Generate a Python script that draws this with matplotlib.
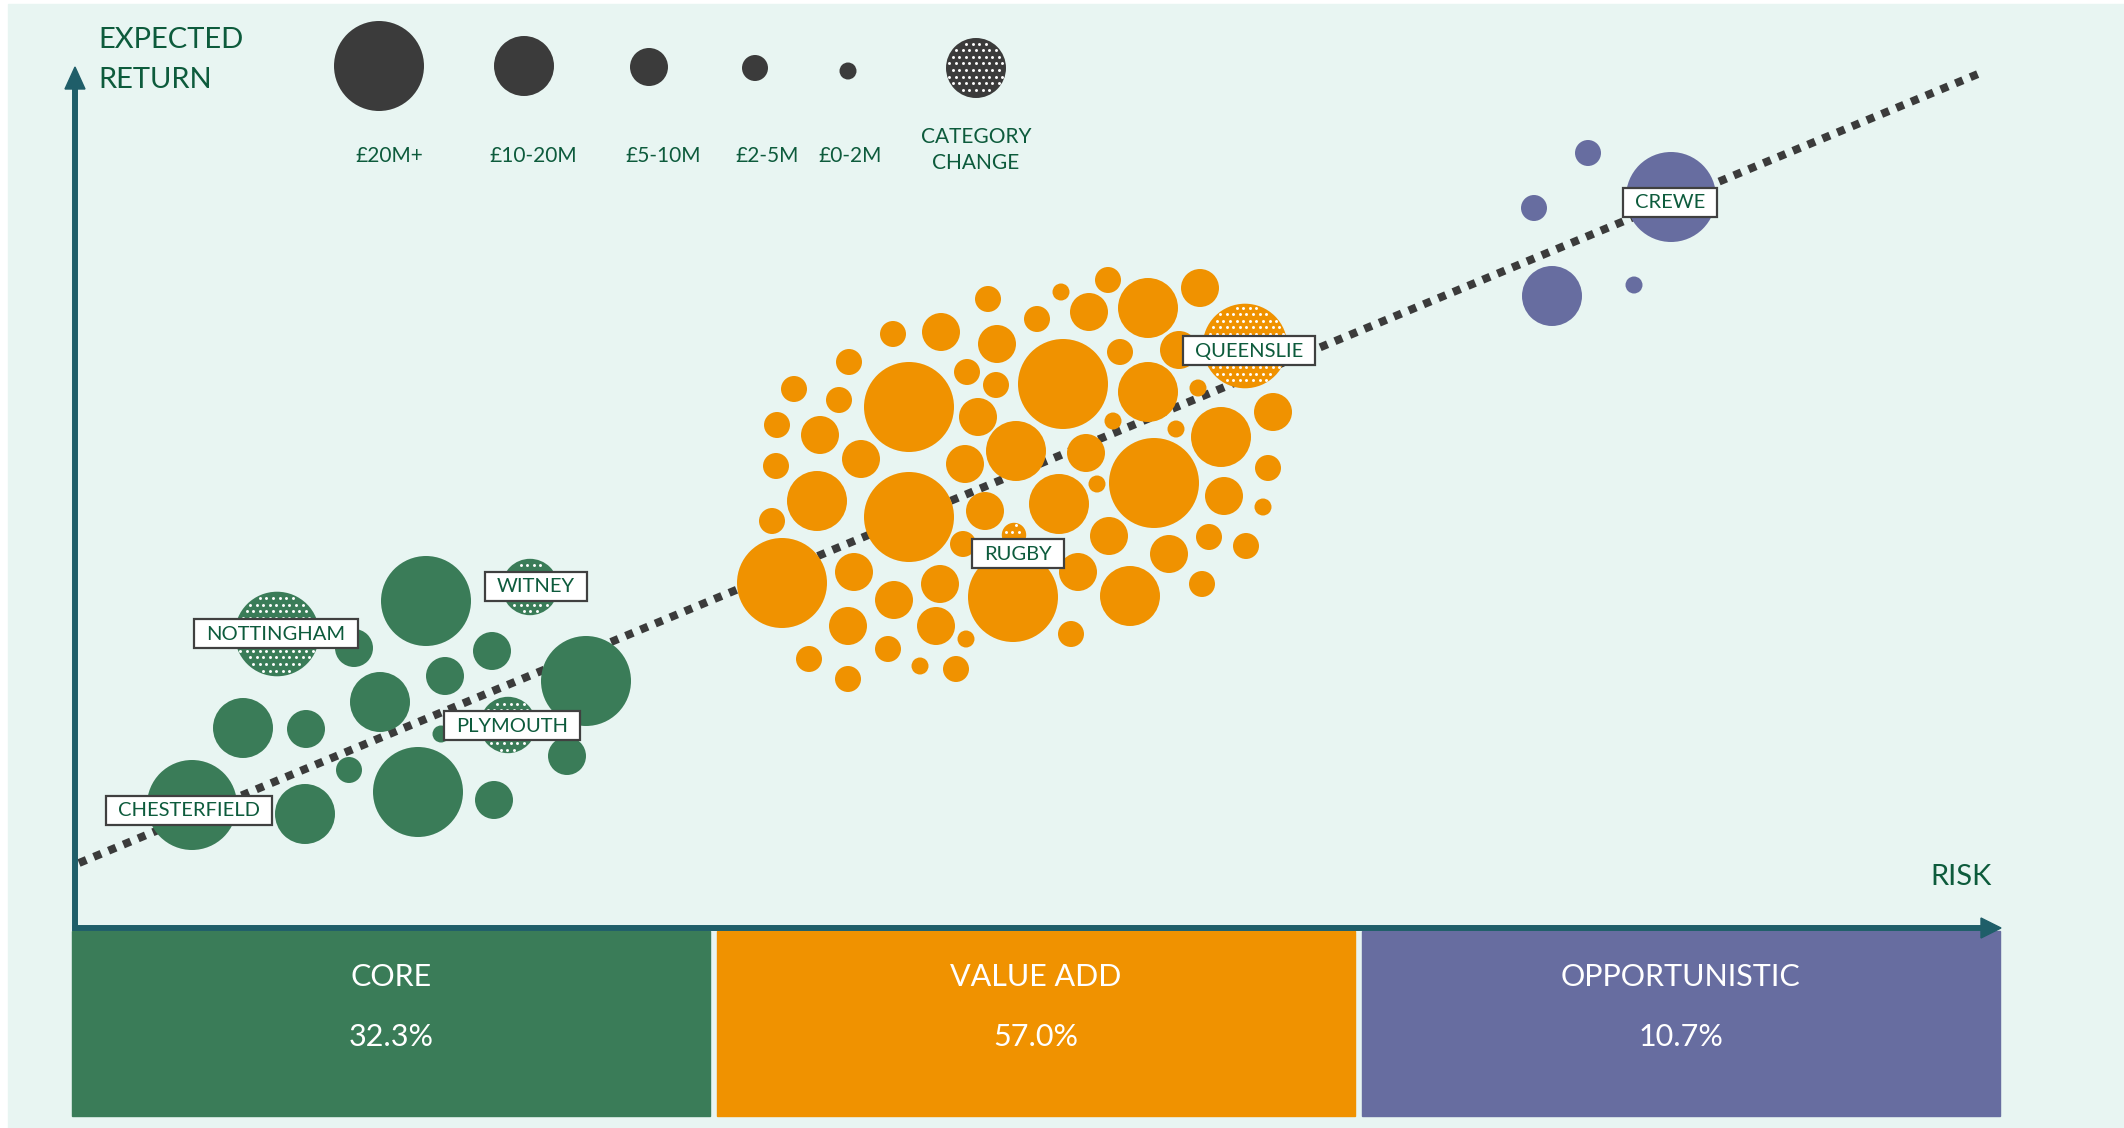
import numpy as np
import matplotlib
matplotlib.use('Agg')
from matplotlib import pyplot as plt
from matplotlib.patches import Circle, Rectangle, Polygon

plt.rcParams['font.family'] = ['Lato', 'DejaVu Sans']

# colours
bg_c = '#E8F5F2'
green_c = '#3A7C58'
orange_c = '#F09200'
purple_c = '#676DA0'
dark_c = '#3B3B3B'
text_c = '#0D5B3C'
axis_c = '#1F5E69'

###############################################################################
### data
###############################################################################

# size bands of the bubbles (0 = biggest)
size_labels = ['£20M+', '£10-20M', '£5-10M', '£2-5M', '£0-2M']
size_radius = [45, 30, 19, 13, 8.5]

# strategy split shown under the axis
strategies = ['CORE', 'VALUE ADD', 'OPPORTUNISTIC']
shares = [32.3, 57.0, 10.7]

# CORE assets: risk, expected return, size band, category change flag
core_risk = [117, 230, 168, 231, 279, 274, 305, 351, 417, 370, 511, 366, 492, 343, 419, 202, 455, 433]
core_ret = [123, 114, 200, 199, 280, 158, 226, 327, 277, 252, 247, 194, 172, 136, 128, 294, 341, 203]
core_size = [0, 1, 1, 2, 2, 3, 1, 0, 2, 2, 0, 4, 2, 0, 2, 0, 1, 1]
core_change = [0, 0, 0, 0, 0, 0, 0, 0, 0, 0, 0, 0, 0, 0, 0, 1, 1, 1]

# VALUE ADD assets
va_risk = [913, 866, 818, 922, 774, 892, 834, 921, 719, 764, 903, 702, 745, 786, 701, 890, 742, 834,
           910, 697, 888, 707, 779, 865, 819, 938, 773, 861, 891, 813, 734, 845, 881, 773,
           1033, 986, 1125, 1073, 1014, 962, 1104, 1045, 988, 1073, 1123, 1198, 1038, 1101, 1146, 941,
           1011, 1079, 1193, 984, 1022, 1149, 1188, 1034, 1134, 1171, 1094, 1003, 1055, 1127, 996,
           1170, 939]
va_ret = [629, 596, 594, 584, 566, 556, 521, 543, 539, 528, 511, 503, 493, 469, 462, 464, 427, 411,
          417, 407, 384, 345, 356, 344, 328, 331, 302, 302, 289, 279, 269, 262, 259, 249,
          648, 636, 640, 620, 616, 609, 578, 576, 544, 536, 540, 516, 507, 499, 491, 477,
          475, 445, 460, 424, 444, 432, 421, 392, 391, 382, 374, 356, 332, 344, 294,
          582, 393]
va_size = [3, 2, 3, 2, 3, 3, 0, 3, 3, 3, 2, 3, 2, 2, 3, 2, 1, 0,
           2, 3, 3, 0, 2, 2, 2, 0, 2, 2, 4, 3, 3, 4, 3, 3,
           3, 4, 2, 1, 2, 3, 2, 3, 0, 1, 4, 2, 4, 4, 1, 1,
           2, 0, 3, 1, 4, 2, 4, 2, 3, 3, 2, 2, 1, 3, 3,
           0, 3]
va_change = [0] * 65 + [1, 1]

# OPPORTUNISTIC assets
opp_risk = [1513, 1459, 1596, 1477, 1559]
opp_ret = [775, 720, 731, 632, 643]
opp_size = [3, 3, 0, 1, 4]
opp_change = [0, 0, 0, 0, 0]

# named assets
label_names = ['CHESTERFIELD', 'NOTTINGHAM', 'WITNEY', 'PLYMOUTH', 'RUGBY', 'QUEENSLIE', 'CREWE']
label_risk = [114, 201, 461, 437, 943, 1174, 1595]
label_ret = [118, 295, 342, 203, 375, 578, 726]

# risk / return trend line
trend_risk = [4, 1903]
trend_ret = [65, 854]

###############################################################################
### figure
###############################################################################

fig = plt.figure(figsize=(21.24, 11.28), dpi=100)
fig.patch.set_facecolor('white')
ax = fig.add_axes([0, 0, 1, 1])
ax.set_xlim(-75, 2049)
ax.set_ylim(-200, 928)
ax.axis('off')

ax.add_patch(Rectangle((-67, -200), 2124, 1124, color=bg_c, zorder=0))


def add_dots(x, y, r):
    # white dot pattern for category change bubbles
    step = 6.6
    px, py = [], []
    for k in range(int(np.floor((y - r) / step)), int(np.ceil((y + r) / step)) + 1):
        yy = k * step
        off = (k % 2) * step / 2
        for xx in np.arange(np.floor((x - r) / step) * step + off, x + r + step, step):
            if (xx - x) ** 2 + (yy - y) ** 2 < (r - 1.5) ** 2:
                px.append(xx)
                py.append(yy)
    ax.scatter(px, py, s=4.5, color='white', linewidths=0, zorder=3)


def draw_bubbles(risk, ret, size, change, color):
    for x, y, s, c in zip(risk, ret, size, change):
        r = size_radius[s]
        if c:
            r = r * 0.94
        ax.add_patch(Circle((x, y), r, facecolor=color, edgecolor='none', zorder=2))
        if c:
            add_dots(x, y, r)


# trend line below the bubbles
ax.plot(trend_risk, trend_ret, color=dark_c, lw=5.76, linestyle=(0, (1, 1)),
        dash_capstyle='butt', zorder=1)

draw_bubbles(core_risk, core_ret, core_size, core_change, green_c)
draw_bubbles(va_risk, va_ret, va_size, va_change, orange_c)
draw_bubbles(opp_risk, opp_ret, opp_size, opp_change, purple_c)

# axes arrows
ax.plot([0, 0], [-3, 842], color=axis_c, lw=4.3, solid_capstyle='butt', zorder=4)
ax.add_patch(Polygon([[-10, 839], [10, 839], [0, 861]], color=axis_c, zorder=4))
ax.plot([-3, 1908], [0, 0], color=axis_c, lw=4.3, solid_capstyle='butt', zorder=4)
ax.add_patch(Polygon([[1906, -10], [1906, 10], [1926, 0]], color=axis_c, zorder=4))

ax.text(23, 868, 'EXPECTED\nRETURN', fontsize=21, color=text_c, ha='left', va='center',
        linespacing=1.65)
ax.text(1917, 51, 'RISK', fontsize=21, color=text_c, ha='right', va='center')

# strategy bands
band_colors = [green_c, orange_c, purple_c]
band_left = [-3, 642, 1287]
for i in range(3):
    ax.add_patch(Rectangle((band_left[i], -188), 638, 185, color=band_colors[i], zorder=1))
    cx = band_left[i] + 319
    ax.text(cx, -49, strategies[i], fontsize=22, color='white', ha='center', va='center')
    ax.text(cx, -109, f'{shares[i]:.1f}%', fontsize=22, color='white', ha='center', va='center')

# legend
leg_x = [304, 449, 574, 680, 773]
leg_y = [862, 862, 861, 860, 857]
leg_lx = [314, 458, 588, 692, 775]
for i in range(5):
    ax.add_patch(Circle((leg_x[i], leg_y[i]), size_radius[i], facecolor=dark_c,
                        edgecolor='none', zorder=2))
    ax.text(leg_lx[i], 772, size_labels[i], fontsize=15, color=text_c, ha='center', va='center')
ax.add_patch(Circle((901, 860), 30, facecolor=dark_c, edgecolor='none', zorder=2))
add_dots(901, 860, 30)
ax.text(901, 778, 'CATEGORY\nCHANGE', fontsize=15, color=text_c, ha='center', va='center',
        linespacing=1.35)

# name labels with boxes
texts = []
for name, x, y in zip(label_names, label_risk, label_ret):
    t = ax.text(x, y - 1, name, fontsize=14.5, color=text_c, ha='center', va='center', zorder=6)
    texts.append(t)
fig.canvas.draw()
for t, x, y in zip(texts, label_risk, label_ret):
    w = t.get_window_extent().width + 24
    ax.add_patch(Rectangle((x - w / 2, y - 14.5), w, 29, facecolor='white',
                           edgecolor='#404040', lw=1.6, zorder=5))

fig.savefig('out.png', dpi=100)
